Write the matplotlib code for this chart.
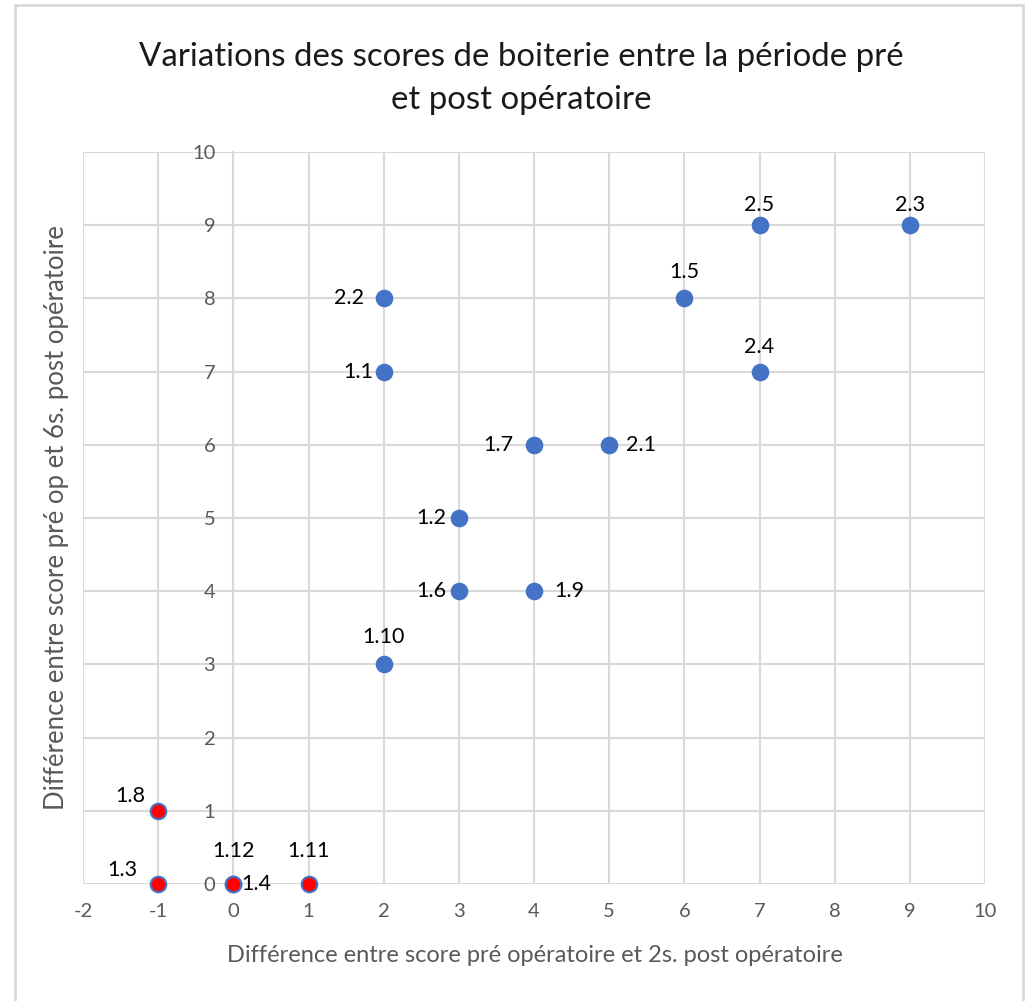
import matplotlib
matplotlib.use("Agg")
import matplotlib.pyplot as plt
from matplotlib.patches import Rectangle

plt.rcParams['font.family'] = ['Lato', 'DejaVu Sans']
plt.rcParams['axes.unicode_minus'] = False

# Scores: x = pre-op minus 2 weeks post-op, y = pre-op minus 6 weeks post-op
labels = ["1.8", "1.3", "1.12", "1.4", "1.11", "1.10", "1.6", "1.9",
          "1.2", "1.7", "2.1", "1.1", "2.2", "1.5", "2.4", "2.5", "2.3"]
x_diff = [-1, -1, 0, 0, 1, 2, 3, 4, 3, 4, 5, 2, 2, 6, 7, 7, 9]
y_diff = [1, 0, 0, 0, 0, 3, 4, 4, 5, 6, 6, 7, 8, 8, 7, 9, 9]
# subjects without improvement are highlighted in red
highlight = ["1.8", "1.3", "1.12", "1.4", "1.11"]

x_ticks = list(range(-2, 11))
y_ticks = list(range(0, 11))

# label placement (pixel offsets from the marker)
label_offsets = {
    "1.8": (-28, 15, "center"), "1.3": (-36, 14, "center"),
    "1.12": (0, 33, "center"), "1.4": (8, 0, "left"),
    "1.11": (0, 33, "center"), "1.10": (0, 27, "center"),
    "1.6": (-13, 0, "right"), "1.9": (20, 0, "left"),
    "1.2": (-13, 0, "right"), "1.7": (-21, 0, "right"),
    "2.1": (17, 0, "left"), "1.1": (-10, 0, "right"),
    "2.2": (-20, 0, "right"), "1.5": (0, 26, "center"),
    "2.4": (0, 25, "center"), "2.5": (0, 20, "center"),
    "2.3": (0, 20, "center"),
}

W, H = 1033, 1001
fig = plt.figure(figsize=(W / 100, H / 100), dpi=100)
fig.patch.set_facecolor("white")

# outer chart frame
fig.add_artist(Rectangle((15 / W, -0.01), (1023 - 15) / W, (H - 5) / H + 0.01,
                         transform=fig.transFigure, fill=False,
                         edgecolor="#d9d9d9", linewidth=2))

ax = fig.add_axes([83 / W, 1 - 884 / H, (985 - 83) / W, (884 - 152) / H])
ax.set_xlim(-2, 10)
ax.set_ylim(0, 10)
ax.set_xticks(x_ticks)
ax.set_yticks(y_ticks)
ax.grid(True, color="#d9d9d9", linewidth=1.5, zorder=0)
ax.set_axisbelow(True)

for s in ["top", "right", "bottom"]:
    ax.spines[s].set_visible(False)
ax.spines["left"].set_position(("data", 0))
ax.spines["left"].set_color("#d9d9d9")
ax.spines["left"].set_linewidth(1.5)
ax.tick_params(axis="both", length=0, labelsize=14.5, labelcolor="#595959")
ax.tick_params(axis="y", pad=13)
ax.tick_params(axis="x", pad=14)

blue = "#4472C4"
for lab, xv, yv in zip(labels, x_diff, y_diff):
    face = "#ff0000" if lab in highlight else blue
    ax.scatter([xv], [yv], s=125, color=face, edgecolors=blue,
               linewidths=1.5, zorder=3, clip_on=False)
    dx, dy, ha = label_offsets[lab]
    ax.annotate(lab, (xv, yv), xytext=(dx, dy), textcoords="offset pixels",
                ha=ha, va="center", fontsize=15.5, color="black", zorder=4)

fig.text(0.505, 1 - 57 / H, "Variations des scores de boiterie entre la période pré",
         ha="center", va="center", fontsize=23.8, color="#1a1a1a")
fig.text(0.505, 1 - 100 / H, "et post opératoire",
         ha="center", va="center", fontsize=23.8, color="#1a1a1a")

fig.text(535 / W, 1 - 955 / H,
         "Différence entre score pré opératoire et 2s. post opératoire",
         ha="center", va="center", fontsize=17, color="#595959")
fig.text(57 / W, 1 - 518 / H,
         "Différence entre score pré op et 6s. post opératoire",
         ha="center", va="center", rotation=90, fontsize=18.5, color="#595959")

fig.savefig("out.png", dpi=100)
